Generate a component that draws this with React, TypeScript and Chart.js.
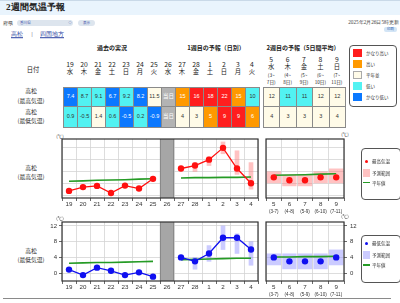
import React, { useEffect, useRef } from 'react';
import { Chart, registerables } from 'chart.js';

Chart.register(...registerables);

// ---------------- data ----------------
const days = ['19', '20', '21', '22', '23', '24', '25', '26', '27', '28', '1', '2', '3', '4'];
const weekdays = ['水', '木', '金', '土', '日', '月', '火', '水', '木', '金', '土', '日', '月', '火'];
const todayDay = '26';
const todayLabel = '当日';

const maxTemps: (number | null)[] = [7.4, 8.7, 9.1, 6.7, 9.2, 8.2, 11.5, null, 15, 16, 18, 22, 15, 10];
const minTemps: (number | null)[] = [0.9, -0.5, 1.4, 0.6, -0.5, 0.2, -0.9, null, 4, 3, 5, 9, 9, 6];
const maxRanges: ([number, number] | null)[] = [null, null, null, null, null, null, null, null, null, [14, 17], [16, 19], [20, 24], [13, 21], [8, 17]];
const minRanges: ([number, number] | null)[] = [null, null, null, null, null, null, null, null, null, [1, 4], [3, 7], [6, 12], [5, 10], [2, 8]];
const maxNormals: (number | null)[] = [10.7, 10.8, 11.0, 11.1, 11.2, 11.4, 11.5, null, 11.8, 11.9, 11.9, 12.0, 12.0, 12.1];
const minNormals: (number | null)[] = [2.5, 2.6, 2.7, 2.7, 2.8, 2.9, 3.0, null, 3.4, 3.5, 3.6, 3.7, 3.8, 3.8];
const maxClasses = ['vlow', 'low', 'low', 'vlow', 'low', 'vlow', 'norm', 'today', 'high', 'vhigh', 'vhigh', 'vhigh', 'high', 'low'];
const minClasses = ['low', 'low', 'norm', 'low', 'vlow', 'low', 'vlow', 'today', 'norm', 'norm', 'high', 'vhigh', 'vhigh', 'high'];

const w2Days = ['5', '6', '7', '8', '9'];
const w2Weekdays = ['水', '木', '金', '土', '日'];
const w2SpanStart = ['(3~', '(4~', '(5~', '(6~', '(7~'];
const w2SpanEnd = ['7日)', '8日)', '9日)', '10日)', '11日)'];
const w2AxisLabels = ['(3-7)', '(4-8)', '(5-9)', '(6-10)', '(7-11)'];
const w2Max = [12, 11, 11, 12, 12];
const w2Min = [4, 3, 3, 3, 4];
const w2MaxRanges: [number, number][] = [[10, 14], [9, 13], [9, 13], [10, 14], [10, 15]];
const w2MinRanges: [number, number][] = [[2, 5], [1, 5], [1, 5], [1, 5], [2, 6]];
const w2MaxNormals = [12.7, 12.8, 12.9, 13.1, 13.2];
const w2MinNormals = [4.1, 4.1, 4.2, 4.2, 4.3];
const w2MaxClasses = ['norm', 'low', 'low', 'norm', 'norm'];
const w2MinClasses = ['norm', 'norm', 'norm', 'norm', 'norm'];

const maxAxis = { min: 5, max: 25 };
const maxGridTicks = [6, 8, 10, 12, 14, 16, 18, 20, 22, 24];
const maxTickLabels = [8, 12, 16, 20, 24];
const minAxis = { min: -2, max: 13 };
const minGridTicks = [0, 2, 4, 6, 8, 10, 12];
const minTickLabels = [0, 4, 8, 12];

const levelKeys = ['vhigh', 'high', 'norm', 'low', 'vlow'];
const levelNames = ['かなり高い', '高い', '平年並', '低い', 'かなり低い'];

// ---------------- styles ----------------
const JP = '"Noto Sans CJK JP", "Noto Sans", sans-serif';
const SERIF = 'serif';
const NUM = '"Liberation Sans", Arial, sans-serif';
const GRID = '#d4d4d4';
const GREEN = '#259b25';
const RED = '#ff1010';
const BLUE = '#1010f0';
const PINK = 'rgba(255,120,120,0.45)';
const LAVENDER = 'rgba(140,140,255,0.45)';

const LEVEL_BG: Record<string, string> = {
  vhigh: '#ff1e1e', high: '#ff9900', norm: '#fffbe8', low: '#52f2f2', vlow: '#0b78ff', today: '#b3b3b3',
};
const LEVEL_FG: Record<string, string> = {
  vhigh: '#fff', high: '#fff', norm: '#333', low: '#333', vlow: '#fff', today: '#fff',
};

type TProps = { x: number; y: number; s?: number; b?: boolean; c?: string; a?: 'l' | 'c' | 'r'; f?: string; u?: boolean; children: React.ReactNode };
function T({ x, y, s = 6, b = false, c = '#222', a = 'c', f = JP, u = false, children }: TProps) {
  const tx = a === 'c' ? '-50%' : a === 'r' ? '-100%' : '0';
  return (
    <div style={{
      position: 'absolute', left: x, top: y, transform: `translate(${tx},-50%)`, fontSize: s,
      fontWeight: b ? 700 : 400, color: c, fontFamily: f, whiteSpace: 'nowrap', lineHeight: 1,
      textDecoration: u ? 'underline' : 'none',
    }}>{children}</div>
  );
}

function Rect({ x, y, w, h, bg = 'transparent', border, radius = 0 }: { x: number; y: number; w: number; h: number; bg?: string; border?: string; radius?: number }) {
  return <div style={{ position: 'absolute', left: x, top: y, width: w, height: h, background: bg, border, borderRadius: radius, boxSizing: 'border-box' }} />;
}

function Cell({ x, y, w, h, cls, text }: { x: number; y: number; w: number; h: number; cls: string; text: string }) {
  return (
    <div style={{
      position: 'absolute', left: x, top: y, width: w + 1, height: h + 1, boxSizing: 'border-box',
      border: '1px solid #8a8a8a', background: LEVEL_BG[cls], color: LEVEL_FG[cls],
      display: 'flex', alignItems: 'center', justifyContent: 'center',
      fontSize: 5.5, fontFamily: cls === 'today' ? JP : NUM, lineHeight: 1,
    }}>{text}</div>
  );
}

const framePlugin = {
  id: 'frame',
  afterDatasetsDraw(chart: any) {
    const { ctx, chartArea } = chart;
    ctx.save();
    ctx.strokeStyle = '#333';
    ctx.lineWidth = 1.2;
    ctx.strokeRect(chartArea.left, chartArea.top, chartArea.right - chartArea.left, chartArea.bottom - chartArea.top);
    ctx.restore();
  },
};

function yScale(axis: { min: number; max: number }, gridTicks: number[], labelTicks: number[], position: 'left' | 'right', width: number, padding: number) {
  return {
    type: 'linear', position, min: axis.min, max: axis.max,
    afterBuildTicks: (s: any) => { s.ticks = gridTicks.map((v) => ({ value: v })); },
    grid: {
      color: GRID, lineWidth: 0.8, tickLength: 3,
      tickColor: (c: any) => (c.tick && labelTicks.includes(c.tick.value) ? '#444' : 'rgba(0,0,0,0)'),
    },
    border: { display: false },
    ticks: {
      font: { size: 6, family: NUM }, color: '#333', padding,
      callback: (v: any) => (labelTicks.includes(v) ? String(v) : ''),
    },
    afterFit: (s: any) => { s.width = width; },
  };
}

function xScale(height: number) {
  return {
    type: 'category', offset: true, weight: 0,
    grid: { offset: true, color: GRID, lineWidth: 0.8, tickColor: '#444', tickLength: 3, drawTicks: true },
    border: { display: false },
    ticks: { font: { size: 6.2, family: NUM }, color: '#333', padding: 0, autoSkip: false, maxRotation: 0, minRotation: 0 },
    afterFit: (s: any) => { s.height = height; },
  };
}

function weekOneConfig(values: (number | null)[], ranges: any[], normals: (number | null)[], axis: { min: number; max: number }, gridTicks: number[], labelTicks: number[], color: string, rangeColor: string): any {
  return {
    type: 'bar',
    data: {
      labels: days,
      datasets: [
        { type: 'line', data: values, borderColor: color, backgroundColor: color, pointBackgroundColor: color, pointBorderColor: color, pointRadius: 3.2, pointBorderWidth: 0, borderWidth: 1.3, spanGaps: false, order: 0 },
        { type: 'line', data: normals, borderColor: GREEN, borderWidth: 1.6, pointRadius: 0, spanGaps: false, order: 1 },
        { type: 'bar', data: ranges, backgroundColor: rangeColor, barThickness: 4, grouped: false, order: 2 },
        {
          type: 'bar', data: days.map((d) => (d === todayDay ? [axis.min, axis.max] : null)),
          backgroundColor: '#a6a6a6', borderColor: '#7c7c7c', borderWidth: { left: 1, right: 1, top: 0, bottom: 0 },
          borderSkipped: false, barPercentage: 1, categoryPercentage: 1, grouped: false, order: 3,
        },
      ],
    },
    options: {
      animation: false, responsive: false, maintainAspectRatio: false,
      layout: { padding: { top: 9, right: 3, left: 0, bottom: 0 } },
      plugins: { legend: { display: false }, tooltip: { enabled: false } },
      events: [],
      scales: {
        x: xScale(17),
        y: yScale(axis, gridTicks, labelTicks, 'left', 22, 2),
      },
    },
    plugins: [framePlugin],
  };
}

function weekTwoConfig(values: number[], ranges: [number, number][], normals: number[], axis: { min: number; max: number }, gridTicks: number[], labelTicks: number[], color: string, rangeColor: string): any {
  return {
    type: 'bar',
    data: {
      labels: w2Days,
      datasets: [
        { type: 'line', data: values, borderColor: 'rgba(0,0,0,0)', showLine: false, backgroundColor: color, pointBackgroundColor: color, pointBorderColor: color, pointRadius: 3.2, pointBorderWidth: 0, order: 0, xAxisID: 'x', yAxisID: 'y' },
        { type: 'line', data: normals, borderColor: GREEN, borderWidth: 1.6, pointRadius: 0, order: 1, xAxisID: 'x', yAxisID: 'y' },
        { type: 'bar', data: ranges, backgroundColor: rangeColor, barPercentage: 0.92, categoryPercentage: 1, grouped: false, order: 2, xAxisID: 'x', yAxisID: 'y' },
      ],
    },
    options: {
      animation: false, responsive: false, maintainAspectRatio: false,
      layout: { padding: { top: 9, right: 0, left: 2, bottom: 0 } },
      plugins: { legend: { display: false }, tooltip: { enabled: false } },
      events: [],
      scales: {
        x: xScale(9),
        x2: {
          type: 'category', labels: w2AxisLabels, position: 'bottom', offset: true, weight: 1,
          grid: { display: false, drawTicks: false }, border: { display: false },
          ticks: { font: { size: 4.6, family: NUM }, color: '#333', padding: 2, autoSkip: false, maxRotation: 0, minRotation: 0 },
          afterFit: (s: any) => { s.height = 13; },
        },
        y: yScale(axis, gridTicks, labelTicks, 'right', 18, 3),
      },
    },
    plugins: [framePlugin],
  };
}

function ChartBox({ x, y, w, h, make }: { x: number; y: number; w: number; h: number; make: () => any }) {
  const ref = useRef<HTMLCanvasElement>(null);
  useEffect(() => {
    if (!ref.current) return;
    const chart = new Chart(ref.current, make());
    return () => chart.destroy();
  }, []);
  return <canvas ref={ref} width={w} height={h} style={{ position: 'absolute', left: x, top: y, width: w, height: h }} />;
}

// ---------------- layout constants ----------------
const COL0 = 63;
const COLW = 14;
const W2X0 = 263;
const W2W = 16.4;
const ROW1 = { y: 87, h: 19 };
const ROW2 = { y: 106, h: 21 };

function fmt(v: number | null) {
  return v === null ? todayLabel : String(v);
}

export default function App() {
  return (
    <div style={{ position: 'absolute', left: 0, top: 0, width: 400, height: 303, overflow: 'hidden', background: '#fff' }}>
      {/* title bar */}
      <Rect x={0} y={0} w={400} h={15} bg="#e9f4fd" />
      <Rect x={0} y={0} w={400} h={1} bg="#c9d9e8" />
      <T x={6} y={7.5} s={9.2} b a="l" f={SERIF} c="#222">2週間気温予報</T>

      {/* selector row */}
      <T x={3} y={22.5} s={5} a="l" f={SERIF}>府県</T>
      <Rect x={17} y={19.5} w={56} h={6.5} bg="#dde5ee" radius={3} />
      <T x={20} y={22.8} s={3.6} a="l" c="#3b4fa8">香川県</T>
      <T x={70} y={22.8} s={3.6} c="#3b4fa8">◇</T>
      <Rect x={78} y={19.5} w={17} h={6.5} bg="#dde5ee" radius={3} />
      <T x={86.5} y={22.8} s={3.6} c="#3b4fa8">表示</T>

      <T x={399} y={23} s={5.2} a="r" f={SERIF} c="#444">2025年2月26日5時更新</T>
      <Rect x={384} y={26.5} w={13} h={5} bg="#d3e5f6" radius={2} />
      <T x={390.5} y={29} s={3.4} c="#2a5db0">印刷</T>

      <T x={11} y={34.5} s={5.6} a="l" f={SERIF} c="#2a3fa0" u>高松</T>
      <T x={32} y={34.5} s={5.6} f={SERIF} c="#333">|</T>
      <T x={40} y={34.5} s={5.6} a="l" f={SERIF} c="#2a3fa0" u>四国地方</T>

      {/* section headers */}
      <T x={112} y={47.5} s={6} b>過去の実況</T>
      <T x={216} y={47.5} s={6} b>1週目の予報（日別）</T>
      <T x={303} y={47.5} s={6} b>2週目の予報（5日間平均）</T>

      {/* date headers */}
      <T x={33} y={70} s={6.3}>日付</T>
      {days.map((d, i) => (
        <React.Fragment key={'d' + i}>
          <T x={COL0 + COLW * i + 7} y={63.5} s={6.8}>{d}</T>
          <T x={COL0 + COLW * i + 7} y={72} s={6.3}>{weekdays[i]}</T>
        </React.Fragment>
      ))}
      {w2Days.map((d, i) => (
        <React.Fragment key={'w' + i}>
          <T x={W2X0 + W2W * i + W2W / 2} y={58.5} s={6.8}>{d}</T>
          <T x={W2X0 + W2W * i + W2W / 2} y={66.5} s={6.3}>{w2Weekdays[i]}</T>
          <T x={W2X0 + W2W * i + W2W / 2} y={74.5} s={4.6}>{w2SpanStart[i]}</T>
          <T x={W2X0 + W2W * i + W2W / 2} y={82} s={4.6}>{w2SpanEnd[i]}</T>
        </React.Fragment>
      ))}

      {/* table row labels */}
      <T x={31} y={91} s={5.8}>高松</T>
      <T x={31} y={100.5} s={5.8}>(最高気温)</T>
      <T x={31} y={111.5} s={5.8}>高松</T>
      <T x={31} y={121} s={5.8}>(最低気温)</T>

      {/* table cells */}
      {maxTemps.map((v, i) => (
        <Cell key={'mx' + i} x={COL0 + COLW * i} y={ROW1.y} w={COLW} h={ROW1.h} cls={maxClasses[i]} text={fmt(v)} />
      ))}
      {minTemps.map((v, i) => (
        <Cell key={'mn' + i} x={COL0 + COLW * i} y={ROW2.y} w={COLW} h={ROW2.h} cls={minClasses[i]} text={fmt(v)} />
      ))}
      {w2Max.map((v, i) => (
        <Cell key={'w2x' + i} x={W2X0 + W2W * i} y={ROW1.y} w={W2W} h={ROW1.h} cls={w2MaxClasses[i]} text={String(v)} />
      ))}
      {w2Min.map((v, i) => (
        <Cell key={'w2n' + i} x={W2X0 + W2W * i} y={ROW2.y} w={W2W} h={ROW2.h} cls={w2MinClasses[i]} text={String(v)} />
      ))}

      {/* level legend */}
      <Rect x={349} y={45} w={48} h={62} border="1px solid #555" radius={4} />
      {levelKeys.map((k, i) => (
        <React.Fragment key={'lv' + i}>
          <Rect x={353} y={49 + i * 11} w={9} h={8} bg={LEVEL_BG[k]} border={k === 'norm' ? '1px solid #aaa' : undefined} />
          <T x={366} y={53 + i * 11} s={4.5} a="l" c="#333">{levelNames[i]}</T>
        </React.Fragment>
      ))}

      {/* chart 1: max */}
      <T x={31} y={167.5} s={5.8}>高松</T>
      <T x={31} y={177} s={5.8}>(最高気温)</T>
      <T x={60} y={135.5} s={4.5} c="#333">(℃)</T>
      <T x={345} y={134} s={4.5} c="#333">(℃)</T>
      <ChartBox x={40} y={130} w={222} h={85}
        make={() => weekOneConfig(maxTemps, maxRanges, maxNormals, maxAxis, maxGridTicks, maxTickLabels, RED, PINK)} />
      <ChartBox x={262} y={130} w={100} h={90}
        make={() => weekTwoConfig(w2Max, w2MaxRanges, w2MaxNormals, maxAxis, maxGridTicks, maxTickLabels, RED, PINK)} />
      <Rect x={361} y={148} w={40} h={52} border="1px solid #555" radius={4} />
      <div style={{ position: 'absolute', left: 364.5, top: 159.5, width: 3, height: 3, borderRadius: 2, background: RED }} />
      <T x={372} y={161} s={4.5} a="l" c="#333">最高気温</T>
      <Rect x={363} y={169} w={7} h={8} bg={PINK} />
      <T x={372} y={173} s={4.5} a="l" c="#333">予測範囲</T>
      <Rect x={363} y={181.5} w={7} h={1.5} bg={GREEN} />
      <T x={372} y={182.5} s={4.5} a="l" c="#333">平年値</T>

      {/* chart 2: min */}
      <T x={31} y={250.5} s={5.8}>高松</T>
      <T x={31} y={260} s={5.8}>(最低気温)</T>
      <T x={60} y={217.5} s={4.5} c="#333">(℃)</T>
      <T x={345} y={216} s={4.5} c="#333">(℃)</T>
      <ChartBox x={40} y={213} w={222} h={85}
        make={() => weekOneConfig(minTemps, minRanges, minNormals, minAxis, minGridTicks, minTickLabels, BLUE, LAVENDER)} />
      <ChartBox x={262} y={213} w={100} h={90}
        make={() => weekTwoConfig(w2Min, w2MinRanges, w2MinNormals, minAxis, minGridTicks, minTickLabels, BLUE, LAVENDER)} />
      <Rect x={361} y={235} w={40} h={48} border="1px solid #555" radius={4} />
      <div style={{ position: 'absolute', left: 364.5, top: 241.5, width: 3, height: 3, borderRadius: 2, background: BLUE }} />
      <T x={372} y={243} s={4.5} a="l" c="#333">最低気温</T>
      <Rect x={363} y={251} w={7} h={8} bg={LAVENDER} />
      <T x={372} y={255} s={4.5} a="l" c="#333">予測範囲</T>
      <Rect x={363} y={264} w={7} h={1.5} bg={GREEN} />
      <T x={372} y={265} s={4.5} a="l" c="#333">平年値</T>

      {/* bottom rule */}
      <Rect x={3} y={298} w={388} h={1} bg="#8a8a8a" />
    </div>
  );
}
